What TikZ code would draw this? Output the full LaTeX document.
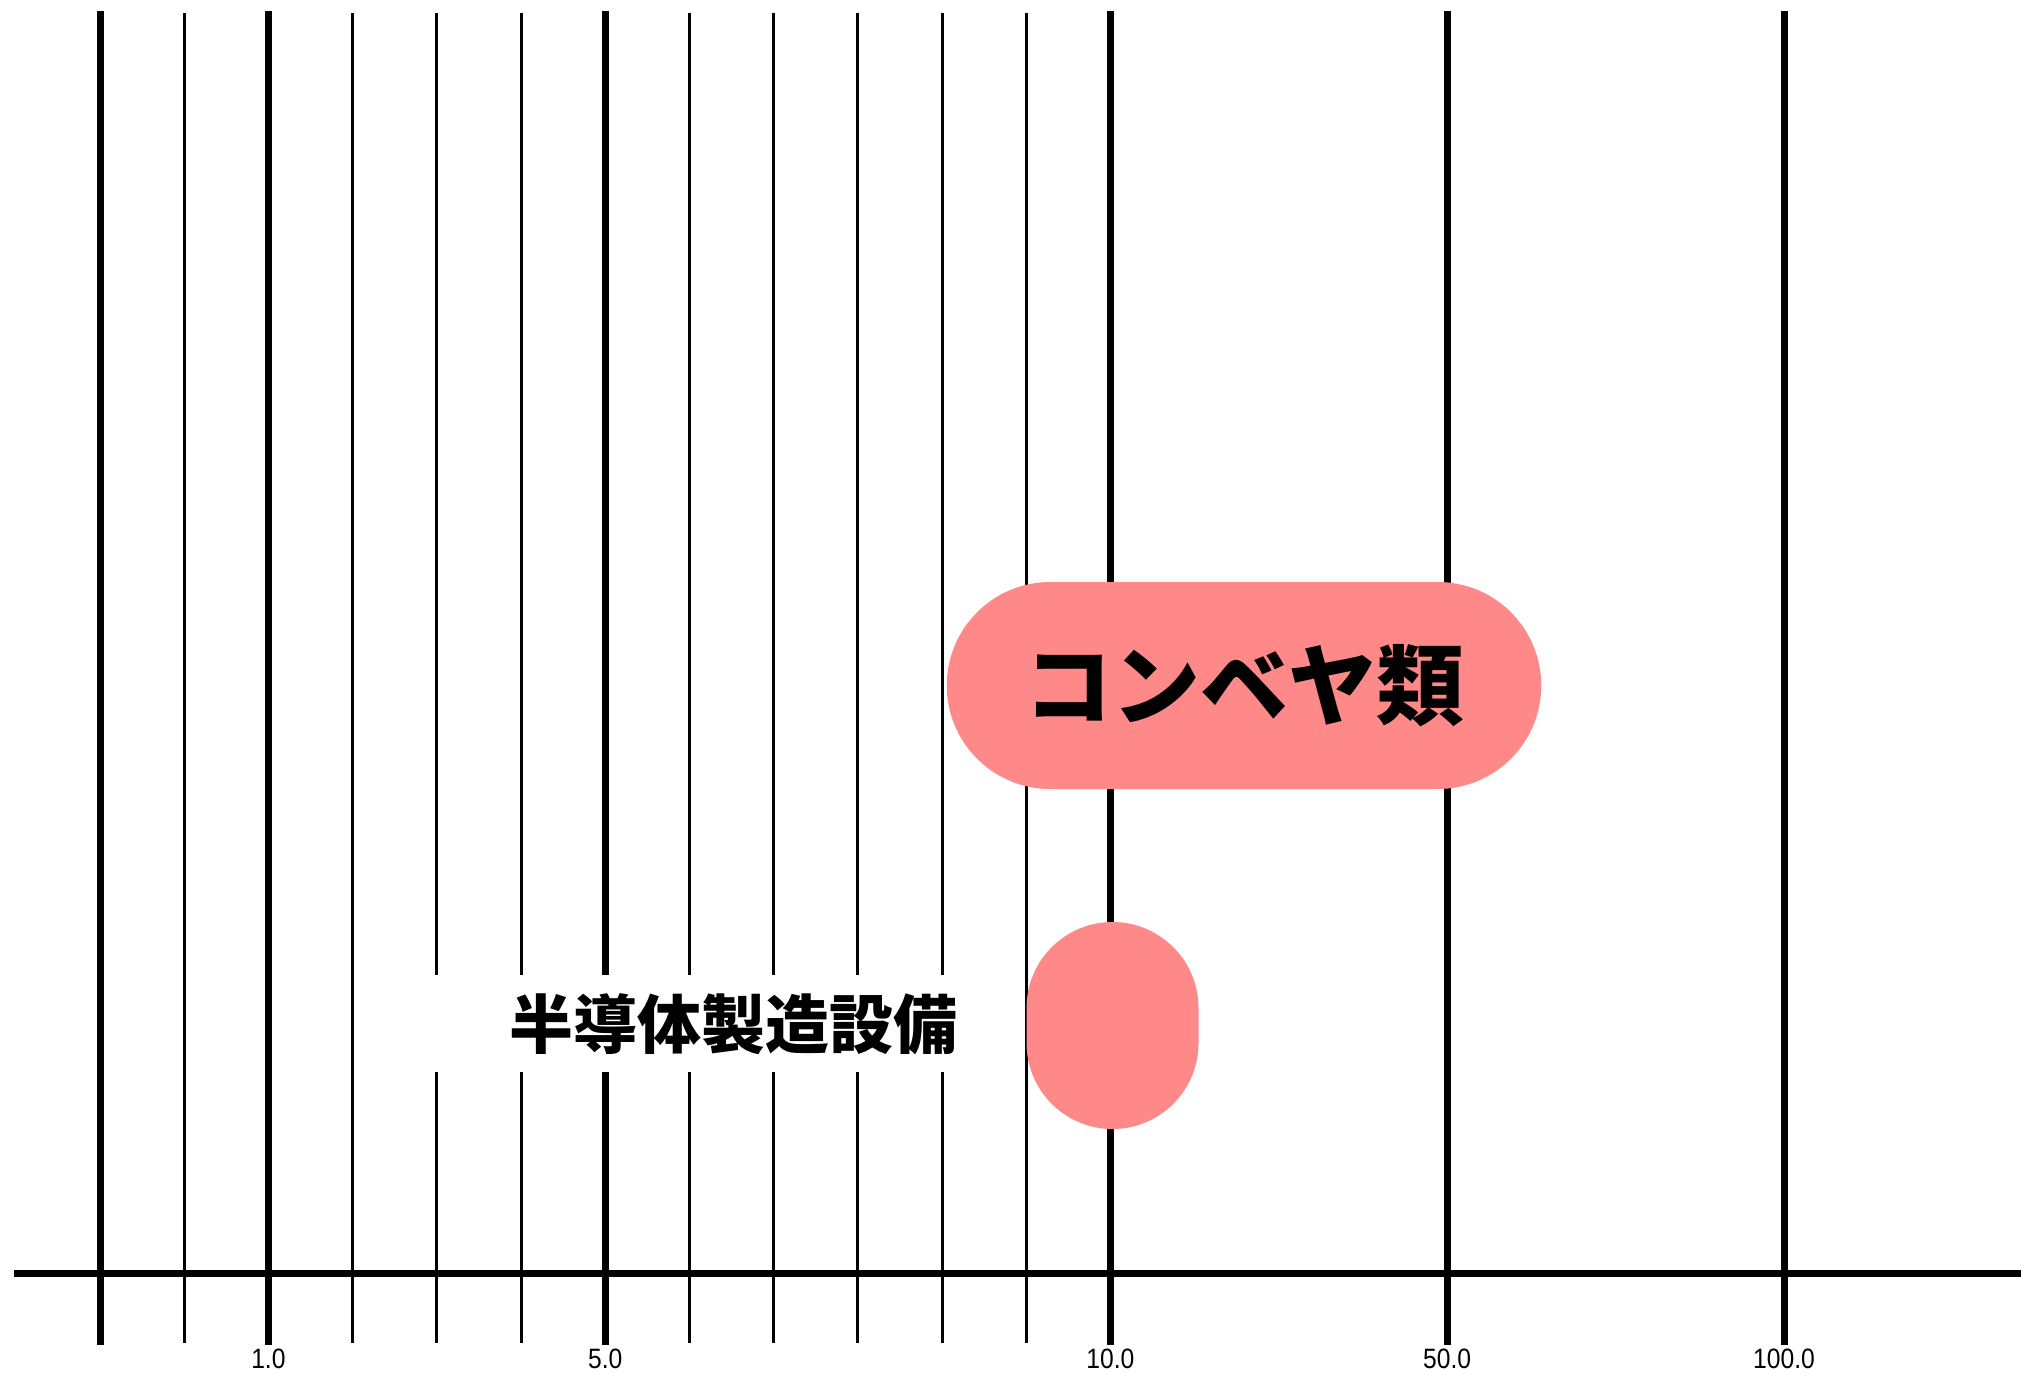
\documentclass[tikz,border=0pt]{standalone}
\usepackage{fontspec}
\setmainfont{Liberation Sans}
\newfontfamily\lblfont{Liberation Sans}[FakeStretch=0.88]
\newfontfamily\cjk{Noto Sans CJK JP}
\usetikzlibrary{shapes.misc}
\definecolor{pillpink}{HTML}{FF8888}
\begin{document}
\begin{tikzpicture}[x=1pt,y=-1pt,
  thickgrid/.style={line width=7pt, line cap=rect},
  thingrid/.style={line width=3pt, line cap=rect},
  axisline/.style={line width=7pt},
  ticklabel/.style={anchor=base, inner sep=0pt, font=\lblfont\fontsize{28}{30}\selectfont},
  pillbox/.style={fill=pillpink, draw=none, rectangle, inner sep=0pt},
  cjklabel/.style={inner sep=0pt, font=\cjk\bfseries}]
\useasboundingbox (0,0) rectangle (2021,1375);
% grid lines
\foreach \k in {1,3,4,5,7,8,9,10,11}{
  \coordinate (t\k) at ({100+84.2*\k},14.5);
  \coordinate (b\k) at ({100+84.2*\k},1341.5);
  \draw[thingrid] (t\k) -- (b\k);
}
\foreach \k in {0,2,6,12,16,20}{
  \coordinate (t\k) at ({100+84.2*\k},14.5);
  \coordinate (b\k) at ({100+84.2*\k},1341.5);
  \draw[thickgrid] (t\k) -- (b\k);
}
% axis
\coordinate (ax0) at (14,1273);
\coordinate (ax1) at (2021,1273);
\draw[axisline] (ax0) -- (ax1);
% tick labels
\node[ticklabel] (l1) at ({100+84.2*2},1368) {1.0};
\node[ticklabel] (l5) at ({100+84.2*6},1368) {5.0};
\node[ticklabel] (l10) at ({100+84.2*12},1368) {10.0};
\node[ticklabel] (l50) at ({100+84.2*16},1368) {50.0};
\node[ticklabel] (l100) at ({100+84.2*20},1368) {100.0};
% label with white background
\fill[white] (398,975) rectangle (988,1072);
\node[cjklabel, font=\cjk\bfseries\fontsize{64}{70}\selectfont] (semi) at (733,1024.5) {半導体製造設備};
% pills
\node[pillbox, rounded corners=103.5pt, minimum width=594.5pt, minimum height=207pt,
      font=\cjk\bfseries\fontsize{88}{96}\selectfont] (conv) at (1244,685.5) {コンベヤ類};
\node[pillbox, rounded corners=86pt, minimum width=172pt, minimum height=207pt] (semibar) at (1112.5,1025.5) {};
\end{tikzpicture}
\end{document}
